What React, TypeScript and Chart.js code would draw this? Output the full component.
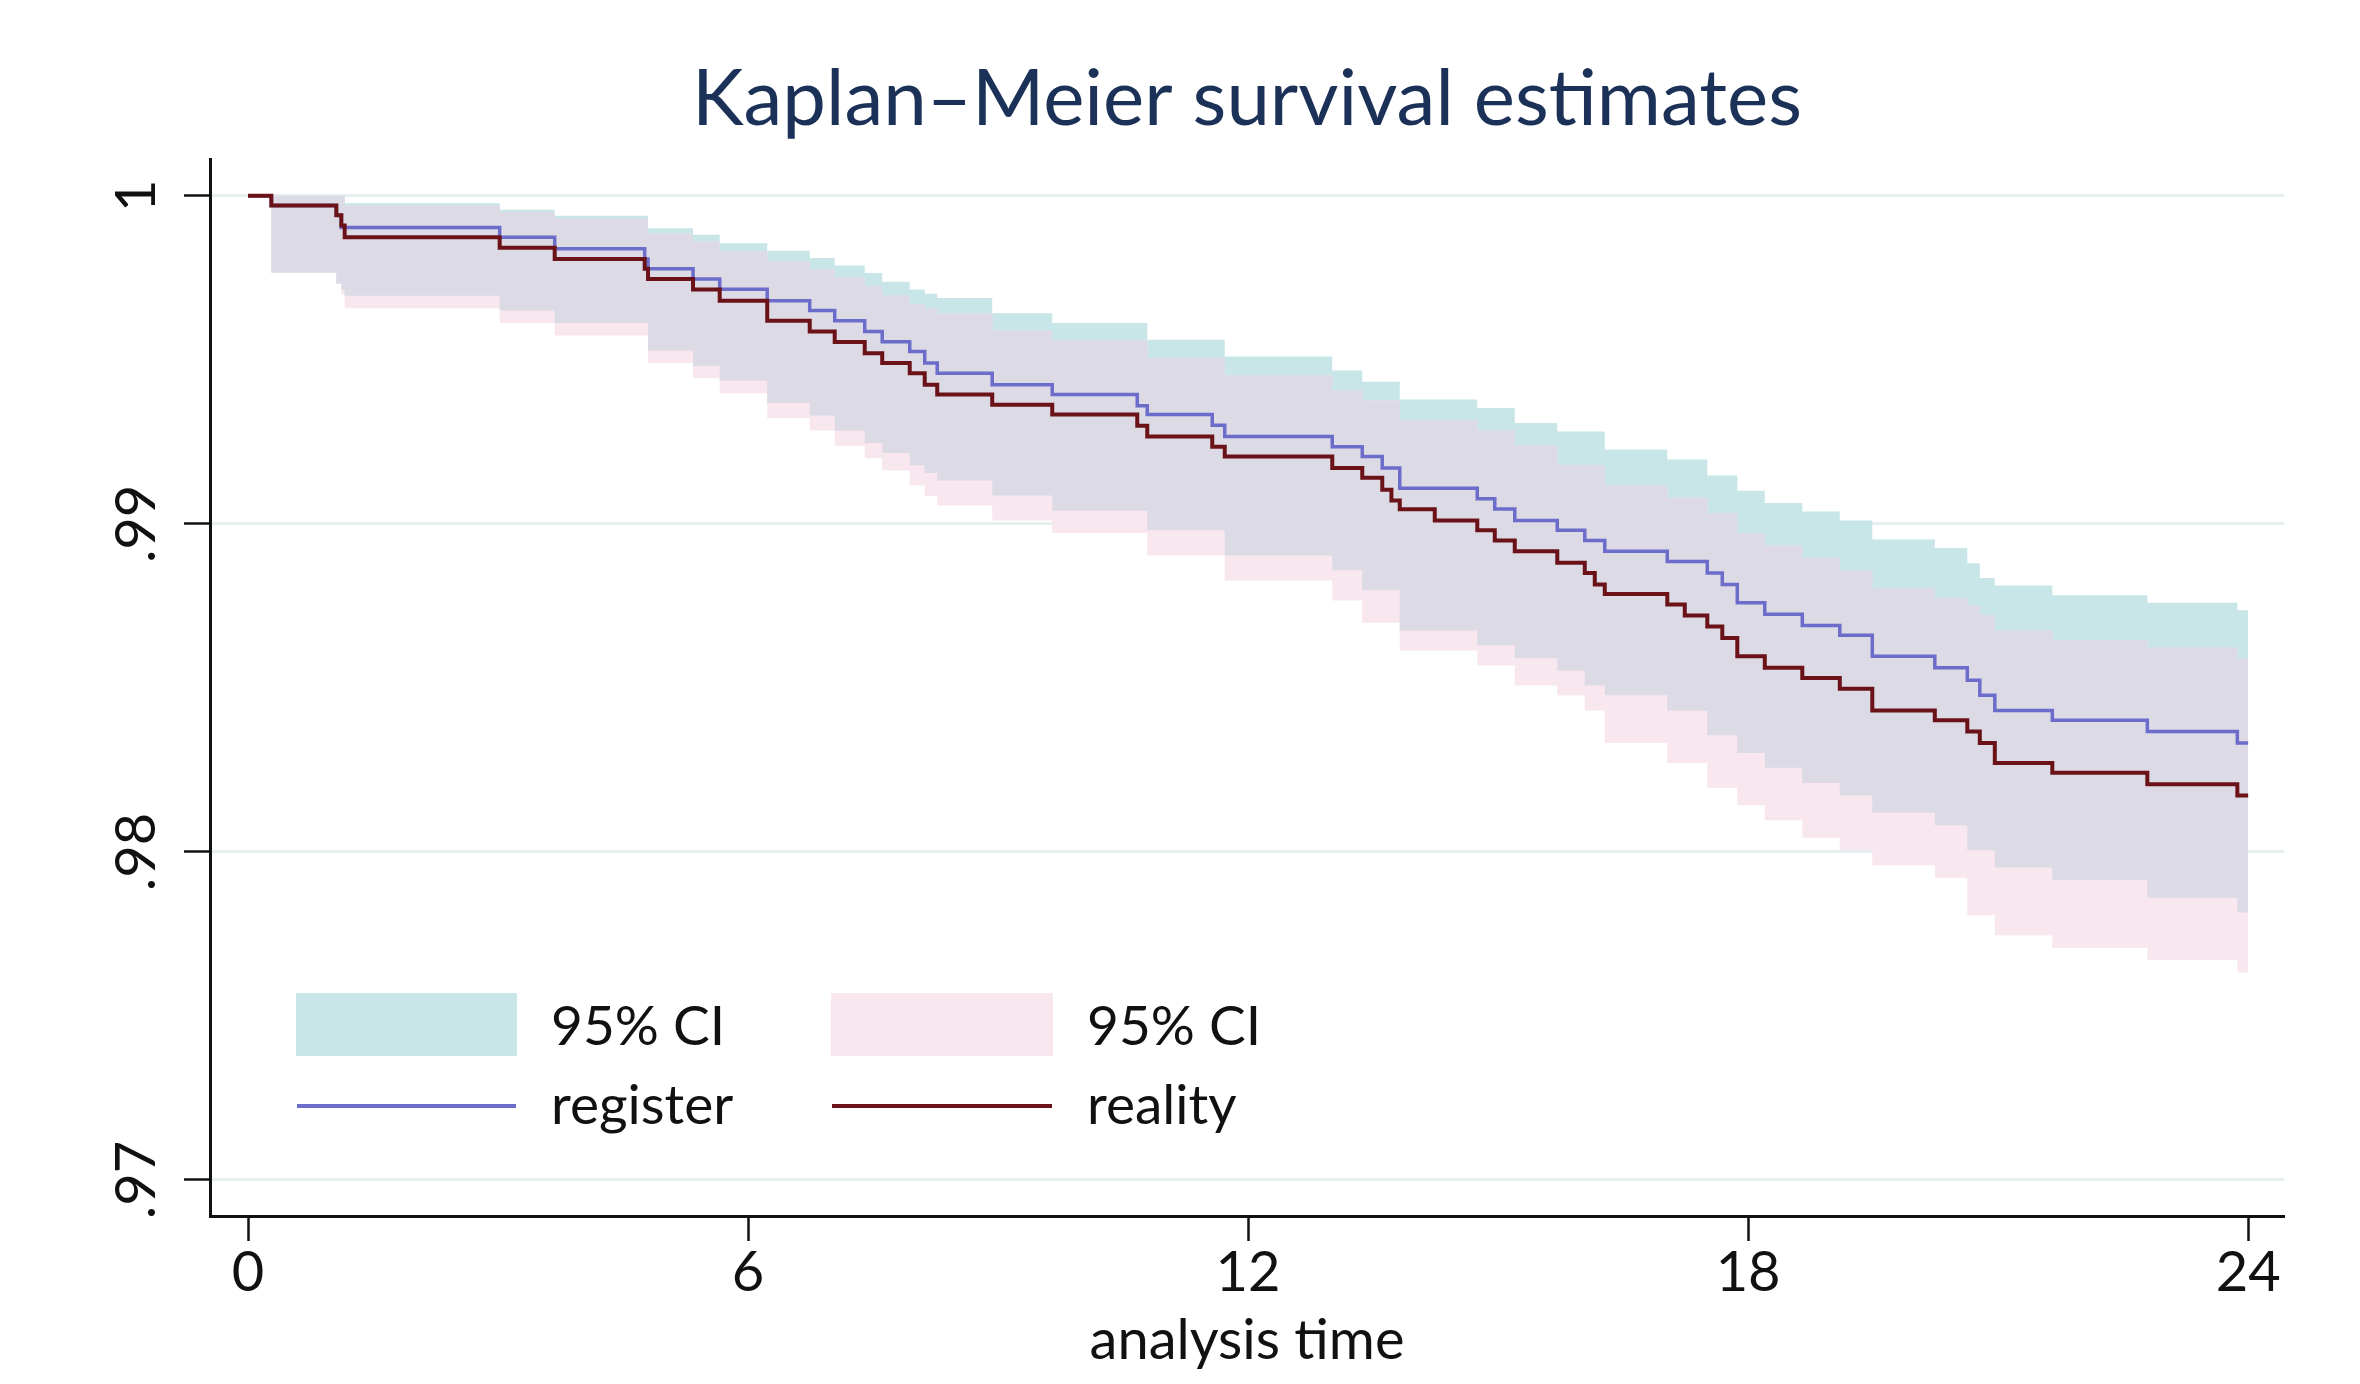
import React, { useEffect, useRef } from "react";
import { Chart, registerables } from "chart.js";

Chart.register(...registerables);

// Shared event times (months); each value holds from its time until the next one
const TIMES = [
  0, 0.28, 1.06, 1.12, 1.16, 3.02, 3.68, 4.76, 4.8, 5.34, 5.66, 6.23, 6.74, 7.04, 7.4, 7.61,
  7.94, 8.12, 8.27, 8.93, 9.65, 10.67, 10.79, 11.57, 11.72, 13.01, 13.37, 13.61, 13.72, 13.82,
  14.24, 14.75, 14.96, 15.2, 15.71, 16.04, 16.16, 16.28, 17.03, 17.24, 17.51, 17.69, 17.87,
  18.2, 18.65, 19.1, 19.49, 20.24, 20.63, 20.78, 20.96, 21.65, 22.79, 23.87, 24.0,
];

const REGISTER = [
  1, 0.9997, 0.9994, 0.99903, 0.99903, 0.99873, 0.99838, 0.99807, 0.99777, 0.99746, 0.99715,
  0.9968, 0.9965, 0.99619, 0.99586, 0.99555, 0.99525, 0.9949, 0.99459, 0.99424, 0.99394, 0.9936,
  0.99333, 0.993, 0.99266, 0.99235, 0.99205, 0.9917, 0.9917, 0.99108, 0.99108, 0.99076, 0.99045,
  0.9901, 0.9898, 0.98949, 0.98949, 0.98916, 0.98885, 0.98885, 0.9885, 0.98815, 0.98759, 0.98724,
  0.9869, 0.9866, 0.98596, 0.98561, 0.98523, 0.98477, 0.98431, 0.98401, 0.98367, 0.98332, 0.98332,
];

const REALITY = [
  1, 0.9997, 0.9994, 0.99909, 0.99873, 0.99841, 0.99807, 0.99777, 0.99746, 0.99714, 0.9968,
  0.99619, 0.99586, 0.99554, 0.9952, 0.9949, 0.99459, 0.99424, 0.99394, 0.99363, 0.99333, 0.99299,
  0.99266, 0.99235, 0.99205, 0.9917, 0.9914, 0.99104, 0.99071, 0.99044, 0.9901, 0.9898, 0.98949,
  0.98916, 0.98881, 0.9885, 0.98815, 0.98786, 0.98754, 0.9872, 0.98687, 0.98652, 0.98596, 0.98561,
  0.9853, 0.98497, 0.98431, 0.98401, 0.98367, 0.98332, 0.98271, 0.98241, 0.98206, 0.98172, 0.98172,
];

const REGISTER_UPPER = [
  1, 1, 1, 1, 0.99977, 0.99957, 0.99939, 0.99939, 0.99901, 0.99881, 0.99855, 0.99832, 0.9981,
  0.99787, 0.99764, 0.99738, 0.99714, 0.99701, 0.99688, 0.99642, 0.99612, 0.99612, 0.99561,
  0.99561, 0.9951, 0.99467, 0.99433, 0.99433, 0.99433, 0.99379, 0.99379, 0.99353, 0.99353,
  0.99307, 0.99281, 0.99281, 0.99281, 0.99226, 0.99196, 0.99196, 0.99147, 0.99147, 0.99101,
  0.99063, 0.99037, 0.9901, 0.98952, 0.98926, 0.9888, 0.98835, 0.98812, 0.98782, 0.98759,
  0.98736, 0.98736,
];

const REGISTER_LOWER = [
  1, 0.99766, 0.99732, 0.99713, 0.99695, 0.9965, 0.99612, 0.99612, 0.99528, 0.99482, 0.99436,
  0.99368, 0.9933, 0.99284, 0.99246, 0.99216, 0.99178, 0.99155, 0.99132, 0.99086, 0.9904, 0.9904,
  0.9898, 0.9898, 0.98903, 0.98858, 0.98797, 0.98797, 0.98797, 0.98675, 0.98675, 0.9863, 0.9863,
  0.9859, 0.98553, 0.98507, 0.98507, 0.98477, 0.98431, 0.98431, 0.98355, 0.98355, 0.98301,
  0.98256, 0.9821, 0.98172, 0.98119, 0.98081, 0.98005, 0.98005, 0.97952, 0.97914, 0.9786,
  0.97815, 0.97815,
];

const REALITY_UPPER = [
  1, 1, 1, 1, 0.9997, 0.9995, 0.99932, 0.99932, 0.99885, 0.9986, 0.9983, 0.998, 0.99775, 0.9975,
  0.99725, 0.99695, 0.9967, 0.99655, 0.9964, 0.99589, 0.99558, 0.99558, 0.99505, 0.99505,
  0.99452, 0.99406, 0.99376, 0.99376, 0.99376, 0.99315, 0.99315, 0.99284, 0.99284, 0.99238,
  0.99178, 0.99178, 0.99178, 0.99117, 0.99079, 0.99079, 0.99033, 0.99033, 0.98972, 0.98934,
  0.98896, 0.98858, 0.98804, 0.98774, 0.9875, 0.98721, 0.98675, 0.98645, 0.98622, 0.98591,
  0.98591,
];

const REALITY_LOWER = [
  1, 0.99766, 0.99732, 0.997, 0.99657, 0.99612, 0.99574, 0.99574, 0.9949, 0.99444, 0.99398,
  0.99322, 0.99284, 0.99238, 0.992, 0.99162, 0.99117, 0.99085, 0.99056, 0.9901, 0.98972, 0.98972,
  0.98903, 0.98903, 0.98827, 0.98766, 0.98698, 0.98698, 0.98698, 0.98614, 0.98614, 0.98568,
  0.98568, 0.98507, 0.98477, 0.98431, 0.98431, 0.98332, 0.98271, 0.98271, 0.98195, 0.98195,
  0.98142, 0.98096, 0.98043, 0.98005, 0.97959, 0.97921, 0.97807, 0.97807, 0.97746, 0.97708,
  0.9767, 0.97632, 0.97632,
];

const X_TICKS = [0, 6, 12, 18, 24];
const X_TICK_LABELS = ["0", "6", "12", "18", "24"];
const Y_TICKS = [0.97, 0.98, 0.99, 1];
const Y_TICK_LABELS = [".97", ".98", ".99", "1"];

const TITLE_TEXT = "Kaplan–Meier survival estimates";
const X_TITLE = "analysis time";
const LEGEND_LABELS = ["95% CI", "register", "95% CI", "reality"];

const TEAL = "#c8e6e8";
const PINK = "#f8e7ee";
const OVERLAP = "#dcdae5";
const BLUE = "#6c6ccb";
const MAROON = "#6b1218";
const GRID = "#e6efef";
const TITLE_COLOR = "#1b3157";
const TEXT = "#111111";
const FONT = "Lato, 'Open Sans', sans-serif";

const toPts = (vals: number[]) => TIMES.map((t, i) => ({ x: t, y: vals[i] }));

const legendPlugin = {
  id: "kmLegend",
  afterDraw(chart: any) {
    const ctx = chart.ctx as CanvasRenderingContext2D;
    ctx.save();
    ctx.fillStyle = TEAL;
    ctx.fillRect(296, 993, 221, 63);
    ctx.fillStyle = PINK;
    ctx.fillRect(831, 993, 222, 63);
    ctx.lineWidth = 4;
    ctx.strokeStyle = BLUE;
    ctx.beginPath();
    ctx.moveTo(297, 1106);
    ctx.lineTo(516, 1106);
    ctx.stroke();
    ctx.strokeStyle = MAROON;
    ctx.beginPath();
    ctx.moveTo(832, 1106);
    ctx.lineTo(1052, 1106);
    ctx.stroke();
    ctx.fillStyle = TEXT;
    ctx.font = `55px ${FONT}`;
    ctx.textAlign = "left";
    ctx.textBaseline = "alphabetic";
    ctx.fillText(LEGEND_LABELS[0], 551, 1045);
    ctx.fillText(LEGEND_LABELS[1], 551, 1124);
    ctx.fillText(LEGEND_LABELS[2], 1087, 1045);
    ctx.fillText(LEGEND_LABELS[3], 1087, 1124);
    ctx.restore();
  },
};

export default function App() {
  const canvasRef = useRef<HTMLCanvasElement | null>(null);

  useEffect(() => {
    if (!canvasRef.current) return;
    const overlapUpper = REGISTER_UPPER.map((v, i) => Math.min(v, REALITY_UPPER[i]));
    const overlapLower = REGISTER_LOWER.map((v, i) => Math.max(v, REALITY_LOWER[i]));
    const band = (data: number[], fill: number | boolean, color: string, order: number) => ({
      data: toPts(data),
      stepped: "before" as const,
      borderWidth: 0,
      borderColor: "rgba(0,0,0,0)",
      backgroundColor: color,
      pointRadius: 0,
      fill,
      order,
    });
    const chart = new Chart(canvasRef.current, {
      type: "line",
      data: {
        datasets: [
          band(REGISTER_UPPER, 1, TEAL, 10),
          band(REGISTER_LOWER, false, TEAL, 10),
          band(REALITY_UPPER, 3, PINK, 9),
          band(REALITY_LOWER, false, PINK, 9),
          band(overlapUpper, 5, OVERLAP, 8),
          band(overlapLower, false, OVERLAP, 8),
          {
            label: "register",
            data: toPts(REGISTER),
            stepped: "before",
            borderColor: BLUE,
            borderWidth: 3.5,
            pointRadius: 0,
            fill: false,
            order: 2,
          },
          {
            label: "reality",
            data: toPts(REALITY),
            stepped: "before",
            borderColor: MAROON,
            borderWidth: 4,
            pointRadius: 0,
            fill: false,
            order: 1,
          },
        ] as any,
      },
      options: {
        animation: false,
        responsive: true,
        maintainAspectRatio: false,
        devicePixelRatio: 1,
        layout: { padding: { left: 0, right: 76, top: 0, bottom: 0 } },
        plugins: {
          legend: { display: false },
          tooltip: { enabled: false },
          title: {
            display: true,
            text: TITLE_TEXT,
            color: TITLE_COLOR,
            fullSize: false,
            font: { family: FONT, size: 78, weight: "normal" as any },
            padding: { top: 53, bottom: 13 },
          },
        },
        scales: {
          x: {
            type: "linear",
            min: -0.456,
            max: 24.43,
            afterBuildTicks: (s: any) => {
              s.ticks = X_TICKS.map((v) => ({ value: v }));
            },
            afterFit: (s: any) => {
              s.height = 168;
            },
            ticks: {
              callback: (_v: any, i: number) => X_TICK_LABELS[i],
              font: { family: FONT, size: 56 },
              color: TEXT,
              padding: -2,
              maxRotation: 0,
              autoSkip: false,
            },
            grid: {
              drawOnChartArea: false,
              tickLength: 25,
              tickColor: TEXT,
              tickWidth: 2.5,
            },
            border: { color: TEXT, width: 3 },
            title: {
              display: true,
              text: X_TITLE,
              color: TEXT,
              font: { family: FONT, size: 56 },
              padding: { top: 0, bottom: 9 },
            },
          },
          y: {
            type: "linear",
            min: 0.9689,
            max: 1.0011,
            afterBuildTicks: (s: any) => {
              s.ticks = Y_TICKS.map((v) => ({ value: v }));
            },
            afterFit: (s: any) => {
              s.width = 210;
            },
            ticks: {
              callback: (_v: any, i: number) => Y_TICK_LABELS[i],
              font: { family: FONT, size: 56 },
              color: TEXT,
              minRotation: 90,
              maxRotation: 90,
              crossAlign: "center",
              padding: 8,
              autoSkip: false,
            },
            grid: {
              color: GRID,
              lineWidth: 3,
              tickLength: 26,
              tickColor: TEXT,
              tickWidth: 2.5,
            },
            border: { color: TEXT, width: 3 },
          },
        },
      } as any,
      plugins: [legendPlugin],
    });
    let alive = true;
    if ((document as any).fonts && (document as any).fonts.load) {
      Promise.all([
        (document as any).fonts.load("78px Lato"),
        (document as any).fonts.load("56px Lato"),
      ]).then(() => {
        if (alive) chart.update();
      }, () => {});
    }
    return () => {
      alive = false;
      chart.destroy();
    };
  }, []);

  return (
    <div
      style={{
        position: "absolute",
        left: 0,
        top: 0,
        width: "2360px",
        height: "1384px",
        background: "#ffffff",
      }}
    >
      <canvas ref={canvasRef} />
    </div>
  );
}
